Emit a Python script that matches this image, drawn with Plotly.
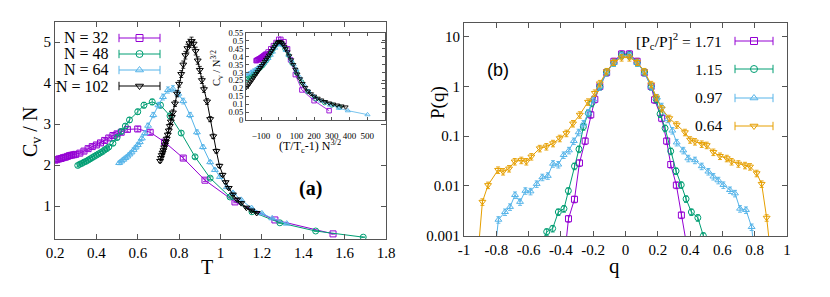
import plotly.graph_objects as go

W, H = 830, 297
OFF = 8  # page body margin that shifts the figure inside the window

# ---------------- panel (a): C_v/N vs T ----------------
T32 = [0.20,0.21,0.22,0.23,0.24,0.25,0.26,0.27,0.28,0.29,0.30,0.32,0.34,0.36,0.38,0.40,0.42,0.44,0.46,0.48,0.50,0.52,0.55,0.60,0.66,0.73,0.82,0.925,1.07,1.263,1.544]
C32 = [2.12,2.13,2.15,2.16,2.18,2.19,2.21,2.23,2.24,2.25,2.26,2.29,2.34,2.40,2.45,2.49,2.54,2.60,2.66,2.72,2.76,2.80,2.87,2.88,2.80,2.56,2.17,1.63,1.10,0.66,0.32]

T48 = [0.31,0.32,0.33,0.34,0.35,0.36,0.37,0.38,0.39,0.40,0.41,0.42,0.43,0.44,0.45,0.46,0.48,0.50,0.52,0.54,0.56,0.60,0.63,0.67,0.71,0.756,0.81,0.877,0.95,1.046,1.152,1.287,1.46,1.69]
C48 = [1.99,2.02,2.04,2.07,2.09,2.12,2.15,2.18,2.21,2.24,2.27,2.30,2.33,2.37,2.40,2.44,2.53,2.67,2.82,2.95,3.10,3.30,3.46,3.54,3.46,3.20,2.78,2.20,1.68,1.22,0.86,0.59,0.39,0.24]

T64 = [0.51,0.52,0.53,0.54,0.55,0.56,0.57,0.58,0.59,0.60,0.61,0.62,0.635,0.65,0.675,0.70,0.722,0.746,0.77,0.796,0.82,0.853,0.886,0.915,0.95,0.973,0.997,1.03,1.06,1.10,1.15,1.20,1.25,1.32]
C64 = [2.05,2.09,2.13,2.17,2.21,2.26,2.31,2.37,2.43,2.49,2.56,2.65,2.78,2.96,3.22,3.46,3.66,3.83,3.86,3.74,3.56,3.22,2.80,2.44,2.07,1.88,1.71,1.46,1.32,1.15,0.95,0.82,0.70,0.57]

T102 = [0.708,0.712,0.716,0.72,0.724,0.728,0.732,0.736,0.74,0.745,0.75,0.755,0.76,0.765,0.77,0.78,0.79,0.80,0.81,0.82,0.83,0.84,0.85,0.86,0.87,0.88,0.89,0.90,0.91,0.92,0.935,0.95,0.965,0.98,0.995,1.01,1.025,1.04,1.06,1.08,1.10,1.125,1.15,1.175]
C102 = [2.10,2.17,2.24,2.30,2.36,2.43,2.50,2.57,2.64,2.74,2.84,2.95,3.06,3.17,3.28,3.50,3.74,3.98,4.22,4.45,4.68,4.85,4.97,5.02,4.96,4.78,4.55,4.32,4.07,3.85,3.55,3.12,2.70,2.34,1.98,1.76,1.58,1.44,1.28,1.16,1.07,0.96,0.89,0.83]

# ---------------- inset: scaled data ----------------
X32 = [-128,-124,-120,-116,-112,-108,-104,-100,-96,-92,-88,-84,-80,-76,-72,-60,-45,-30,-15,0,12,30,50,67,94,131,200,285]
Y32 = [0.375,0.377,0.38,0.382,0.385,0.387,0.39,0.393,0.396,0.40,0.403,0.406,0.41,0.413,0.417,0.43,0.45,0.47,0.49,0.51,0.51,0.495,0.45,0.38,0.287,0.19,0.122,0.059]

X48 = [-183,-175,-167,-160,-152,-145,-137,-130,-122,-115,-107,-100,-90,-80,-70,-60,-50,-40,-30,-20,-10,0,10,20,35,55,75,100,130,165,210,260,300,344]
Y48 = [0.255,0.262,0.268,0.275,0.282,0.29,0.297,0.305,0.312,0.32,0.327,0.335,0.345,0.36,0.375,0.39,0.41,0.43,0.45,0.47,0.48,0.49,0.49,0.48,0.45,0.41,0.36,0.30,0.24,0.18,0.135,0.11,0.095,0.082]

X64 = [-183,-170,-157,-145,-132,-120,-107,-95,-82,-70,-58,-45,-33,-20,-8,0,10,25,40,55,70,85,100,120,145,170,200,240,290,340,391,502]
Y64 = [0.287,0.295,0.303,0.312,0.32,0.33,0.34,0.35,0.36,0.375,0.39,0.41,0.43,0.455,0.475,0.48,0.48,0.47,0.44,0.41,0.38,0.35,0.32,0.27,0.22,0.18,0.15,0.12,0.095,0.075,0.059,0.034]

X102 = [-183,-175,-167,-159,-151,-143,-135,-127,-119,-111,-103,-95,-87,-79,-71,-63,-55,-47,-39,-31,-23,-15,-7,0,8,16,24,32,40,50,60,70,82,94,106,120,135,150,165,182,200,220,240,262,285,308,330,355,378]
Y102 = [0.205,0.215,0.228,0.24,0.253,0.266,0.279,0.292,0.305,0.318,0.331,0.344,0.357,0.37,0.383,0.396,0.41,0.424,0.438,0.452,0.465,0.478,0.488,0.495,0.494,0.488,0.478,0.465,0.45,0.43,0.405,0.38,0.35,0.32,0.29,0.26,0.23,0.205,0.182,0.165,0.15,0.137,0.126,0.116,0.107,0.10,0.094,0.088,0.082]

# ---------------- panel (b): P(q) ----------------
q171 = [-0.39,-0.353,-0.316,-0.285,-0.25,-0.215,-0.19,-0.159,-0.117,-0.072,-0.024,0.024,0.072,0.117,0.159,0.18,0.224,0.255,0.28,0.315,0.346,0.39]
P171 = [0.00016,0.0022,0.0054,0.029,0.08,0.27,0.55,1.0,1.9,3.2,4.5,4.5,3.2,1.9,1.0,0.54,0.23,0.08,0.027,0.0104,0.0026,0.0004]

q115 = [-0.53,-0.488,-0.451,-0.416,-0.381,-0.354,-0.316,-0.288,-0.261,-0.23,-0.209,-0.159,-0.117,-0.072,-0.024,0.024,0.072,0.117,0.159,0.19,0.214,0.245,0.28,0.313,0.345,0.375,0.408,0.448,0.482,0.52]
P115 = [0.0006,0.0012,0.0014,0.003,0.0035,0.008,0.025,0.055,0.155,0.29,0.46,1.0,1.95,3.0,4.3,4.3,3.0,1.95,1.0,0.55,0.28,0.145,0.05,0.02,0.0105,0.0055,0.003,0.0023,0.001,0.0003]

q097 = [-0.83,-0.787,-0.746,-0.715,-0.684,-0.653,-0.62,-0.588,-0.55,-0.515,-0.481,-0.449,-0.416,-0.383,-0.35,-0.32,-0.29,-0.26,-0.23,-0.2,-0.159,-0.117,-0.072,-0.024,
        0.024,0.072,0.117,0.159,0.195,0.224,0.26,0.29,0.317,0.358,0.389,0.43,0.472,0.513,0.544,0.575,0.606,0.647,0.678,0.709,0.746,0.781,0.82]
P097 = [0.0001,0.0021,0.003,0.0038,0.0066,0.0048,0.008,0.0078,0.011,0.015,0.016,0.028,0.027,0.042,0.052,0.08,0.12,0.18,0.30,0.55,1.0,1.9,3.0,4.2,
        4.2,3.0,1.9,1.0,0.6,0.4,0.22,0.13,0.075,0.052,0.036,0.033,0.025,0.0195,0.0155,0.013,0.0105,0.0083,0.0071,0.0035,0.0033,0.0015,0.0001]

q064 = [-0.93,-0.886,-0.851,-0.789,-0.758,-0.721,-0.686,-0.645,-0.614,-0.583,-0.531,-0.49,-0.449,-0.407,-0.366,-0.325,-0.283,-0.232,-0.19,-0.159,-0.117,-0.072,-0.024,
        0.024,0.072,0.117,0.159,0.19,0.224,0.271,0.317,0.368,0.40,0.43,0.472,0.503,0.544,0.585,0.627,0.657,0.699,0.74,0.771,0.812,0.843,0.874,0.92]
P064 = [0.0001,0.0048,0.0104,0.021,0.0195,0.0224,0.031,0.033,0.031,0.039,0.057,0.062,0.072,0.091,0.115,0.18,0.27,0.49,0.74,1.15,2.0,3.1,3.8,
        3.8,3.1,2.0,1.1,0.6,0.36,0.23,0.17,0.12,0.085,0.078,0.07,0.066,0.048,0.04,0.036,0.031,0.028,0.026,0.0245,0.018,0.011,0.0023,0.0001]

# ---------------- style ----------------
PURPLE, GREEN, BLUE, BLACK, ORANGE = "#9400d3", "#009e73", "#56b4e9", "#000000", "#e69f00"
SERIF = "Liberation Serif"
SANS = "Liberation Sans"
FRAME = "#555555"


def px_x(p):
    return (p - OFF) / W


def px_y(p):
    return 1 - (p - OFF) / H


fig = go.Figure()

main_series = [
    (T32, C32, PURPLE, "square-open"),
    (T48, C48, GREEN, "circle-open"),
    (T64, C64, BLUE, "triangle-up-open"),
    (T102, C102, BLACK, "triangle-down-open"),
]
for xs, ys, col, sym in main_series:
    fig.add_trace(go.Scatter(
        x=xs, y=ys, mode="lines+markers", xaxis="x", yaxis="y",
        line=dict(color=col, width=1),
        marker=dict(symbol=sym, size=6, color=col, line=dict(width=1, color=col)),
        error_y=dict(type="percent", value=2, color=col, thickness=0.8, width=2),
        showlegend=False, hoverinfo="skip"))

inset_series = [
    (X32, Y32, PURPLE, "square-open"),
    (X48, Y48, GREEN, "circle-open"),
    (X64, Y64, BLUE, "triangle-up-open"),
    (X102, Y102, BLACK, "triangle-down-open"),
]
for xs, ys, col, sym in inset_series:
    fig.add_trace(go.Scatter(
        x=xs, y=ys, mode="lines+markers", xaxis="x2", yaxis="y2",
        line=dict(color=col, width=0.8),
        marker=dict(symbol=sym, size=4.5, color=col, line=dict(width=0.9, color=col)),
        showlegend=False, hoverinfo="skip"))

right_series = [
    (q171, P171, PURPLE, "square-open"),
    (q115, P115, GREEN, "circle-open"),
    (q097, P097, BLUE, "triangle-up-open"),
    (q064, P064, ORANGE, "triangle-down-open"),
]
for xs, ys, col, sym in right_series:
    fig.add_trace(go.Scatter(
        x=xs, y=ys, mode="lines+markers", xaxis="x3", yaxis="y3",
        line=dict(color=col, width=1),
        marker=dict(symbol=sym, size=6, color=col, line=dict(width=1, color=col)),
        error_y=dict(type="percent", value=15, color=col, thickness=0.9, width=2),
        showlegend=False, hoverinfo="skip", cliponaxis=True))

# ---------------- manual gnuplot-style keys (overlay axis in window pixels) ----------------
left_keys = [("N = 32", PURPLE, "square-open", 38),
             ("N = 48", GREEN, "circle-open", 54),
             ("N = 64", BLUE, "triangle-up-open", 70),
             ("N = 102", BLACK, "triangle-down-open", 86)]
right_keys = [("[P<sub>c</sub>/P]<sup>2</sup> = 1.71", PURPLE, "square-open", 41),
              ("1.15", GREEN, "circle-open", 69),
              ("0.97", BLUE, "triangle-up-open", 98),
              ("0.64", ORANGE, "triangle-down-open", 126)]

annotations = []


def note(x, y, text, size, family=SERIF, angle=0, xa="center", ya="middle"):
    annotations.append(dict(x=px_x(x), y=px_y(y), xref="paper", yref="paper", text=text,
                            showarrow=False, xanchor=xa, yanchor=ya, textangle=angle,
                            font=dict(family=family, size=size, color="black")))


for keys, x_text, x0, x1, fs in [(left_keys, 111, 119, 160, 16), (right_keys, 724, 735, 773, 15.5)]:
    for label, col, sym, yk in keys:
        fig.add_trace(go.Scatter(x=[x0, x1], y=[yk, yk], mode="lines", xaxis="x4", yaxis="y4",
                                 line=dict(color=col, width=1), showlegend=False, hoverinfo="skip"))
        fig.add_trace(go.Scatter(x=[x0, x1], y=[yk, yk], mode="markers", xaxis="x4", yaxis="y4",
                                 marker=dict(symbol="line-ns-open", size=6, color=col, line=dict(width=1, color=col)),
                                 showlegend=False, hoverinfo="skip"))
        fig.add_trace(go.Scatter(x=[(x0 + x1) / 2], y=[yk], mode="markers", xaxis="x4", yaxis="y4",
                                 marker=dict(symbol=sym, size=7, color=col, line=dict(width=1, color=col)),
                                 showlegend=False, hoverinfo="skip"))
        note(x_text, yk, label, fs, xa="right")

# axis titles and panel labels
note(31, 132, "C<sub>v</sub> / N", 20, angle=-90)
note(207, 267, "T", 20)
note(310, 188, "<b>(a)</b>", 20)
note(438, 103, "P(q)", 19, angle=-90)
note(614, 266, "q", 21)
note(498, 70, "(b)", 18, family=SANS)
note(217, 68, "C<sub>v</sub> / N<sup>3/2</sup>", 10.5, angle=-90)
note(310, 146, "(T/T<sub>c</sub>-1) N<sup>3/2</sup>", 12)

axis_common = dict(showline=True, linecolor=FRAME, linewidth=1, mirror="ticks", ticks="inside",
                   tickcolor=FRAME, showgrid=False, zeroline=False)

fig.update_layout(
    width=W, height=H, margin=dict(l=0, r=0, t=0, b=0, pad=0, autoexpand=False),
    paper_bgcolor="white", plot_bgcolor="rgba(0,0,0,0)", showlegend=False,
    xaxis=dict(domain=[px_x(55), px_x(386)], range=[0.2, 1.8], tickvals=[0.2, 0.4, 0.6, 0.8, 1.0, 1.2, 1.4, 1.6, 1.8],
               ticktext=["0.2", "0.4", "0.6", "0.8", "1", "1.2", "1.4", "1.6", "1.8"], ticklen=5,
               tickfont=dict(family=SERIF, size=15, color="black"), anchor="y", **axis_common),
    yaxis=dict(domain=[px_y(239), px_y(22)], range=[0.195, 5.49], tickvals=[1, 2, 3, 4, 5], ticklen=5,
               tickfont=dict(family=SERIF, size=15, color="black"), anchor="x", **axis_common),
    xaxis2=dict(domain=[px_x(246), px_x(385)], range=[-185, 601], tickvals=[-100, 0, 100, 200, 300, 400, 500], ticklen=3,
                tickfont=dict(family=SERIF, size=9, color="black"), anchor="y2", ticklabelstandoff=7, **axis_common),
    yaxis2=dict(domain=[px_y(120), px_y(33)], range=[0, 0.55],
                tickvals=[0, 0.05, 0.1, 0.15, 0.2, 0.25, 0.3, 0.35, 0.4, 0.45, 0.5, 0.55],
                ticktext=["0", "0.05", "0.1", "0.15", "0.2", "0.25", "0.3", "0.35", "0.4", "0.45", "0.5", "0.55"],
                ticklen=3, tickfont=dict(family=SERIF, size=8.5, color="black"), anchor="x2", **axis_common),
    xaxis3=dict(domain=[px_x(464), px_x(787)], range=[-1, 1],
                tickvals=[-1, -0.8, -0.6, -0.4, -0.2, 0, 0.2, 0.4, 0.6, 0.8, 1],
                ticktext=["-1", "-0.8", "-0.6", "-0.4", "-0.2", "0", "0.2", "0.4", "0.6", "0.8", "1"], ticklen=5,
                tickfont=dict(family=SERIF, size=15, color="black"), anchor="y3", **axis_common),
    yaxis3=dict(domain=[px_y(236), px_y(23)], type="log", range=[-3.005, 1.275],
                tickvals=[0.001, 0.01, 0.1, 1, 10], ticktext=["0.001", "0.01", "0.1", "1", "10"], ticklen=5,
                tickfont=dict(family=SERIF, size=15, color="black"), anchor="x3", **axis_common),
    xaxis4=dict(domain=[0, 1], range=[OFF, W + OFF], visible=False, anchor="y4", fixedrange=True),
    yaxis4=dict(domain=[0, 1], range=[H + OFF, OFF], visible=False, anchor="x4", fixedrange=True),
    annotations=annotations,
)

fig.write_html("out.html")
